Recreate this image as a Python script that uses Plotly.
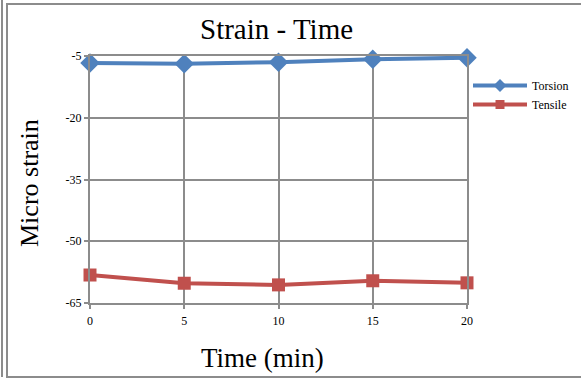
import plotly.graph_objects as go

time_min = [0, 5, 10, 15, 20]
torsion = [-6.7, -6.9, -6.5, -5.8, -5.4]
tensile = [-58.2, -60.2, -60.6, -59.6, -60.1]
y_ticks = [-5, -20, -35, -50, -65]
y_tick_text = ["-5", "-20", "-35", "-50", "-65"]
x_ticks = [0, 5, 10, 15, 20]

W, H = 581, 380
BLUE = "#4F81BD"
RED = "#C0504D"
GRID = "#8C8C8C"
FONT = "Liberation Serif"

def px(x):
    return x / W

def py(y):
    return 1 - y / H

fig = go.Figure()
fig.add_trace(go.Scatter(x=time_min, y=torsion, name="Torsion", mode="lines+markers",
                         line=dict(color=BLUE, width=4),
                         marker=dict(symbol="diamond", size=15, color=BLUE),
                         cliponaxis=False, showlegend=False))
fig.add_trace(go.Scatter(x=time_min, y=tensile, name="Tensile", mode="lines+markers",
                         line=dict(color=RED, width=4),
                         marker=dict(symbol="square", size=13, color=RED),
                         cliponaxis=False, showlegend=False))
# legend entries (smaller symbols, as in the reference legend)
fig.add_trace(go.Scatter(x=[None], y=[None], name="Torsion", mode="lines+markers",
                         line=dict(color=BLUE, width=4),
                         marker=dict(symbol="diamond", size=10, color=BLUE)))
fig.add_trace(go.Scatter(x=[None], y=[None], name="Tensile", mode="lines+markers",
                         line=dict(color=RED, width=4),
                         marker=dict(symbol="square", size=9, color=RED)))

axis_common = dict(showgrid=True, gridcolor=GRID, gridwidth=2,
                   showline=True, linecolor=GRID, linewidth=2, mirror=True,
                   ticks="outside", ticklen=4, tickcolor=GRID, tickwidth=2,
                   zeroline=False, automargin=False,
                   tickfont=dict(family=FONT, size=12, color="black"))

fig.update_layout(
    width=W, height=H,
    margin=dict(l=0, r=0, t=0, b=0),
    paper_bgcolor="white", plot_bgcolor="white",
    font=dict(family=FONT, color="black", size=12),
    showlegend=True,
    legend=dict(x=px(468), y=py(71), xanchor="left", yanchor="top",
                font=dict(family=FONT, size=12, color="black"), bgcolor="rgba(0,0,0,0)",
                tracegroupgap=0, itemwidth=54),
    xaxis=dict(domain=[px(90), px(467)], range=[0, 20], tickvals=x_ticks,
               ticklabelstandoff=2, **axis_common),
    yaxis=dict(domain=[py(303), py(56)], range=[-65, -5], tickvals=y_ticks,
               ticktext=y_tick_text, **axis_common),
    annotations=[
        dict(text="Strain - Time", x=px(276), y=py(29), xref="paper", yref="paper",
             showarrow=False, font=dict(family=FONT, size=29), xanchor="center", yanchor="middle"),
        dict(text="Time (min)", x=px(262), y=py(358), xref="paper", yref="paper",
             showarrow=False, font=dict(family=FONT, size=27), xanchor="center", yanchor="middle"),
        dict(text="Micro strain", x=px(29), y=py(183), xref="paper", yref="paper",
             showarrow=False, font=dict(family=FONT, size=26), textangle=-90,
             xanchor="center", yanchor="middle"),
    ],
    shapes=[
        dict(type="line", xref="paper", yref="paper", x0=px(2), x1=px(2), y0=py(0), y1=py(377),
             line=dict(color=GRID, width=2)),
        dict(type="line", xref="paper", yref="paper", x0=px(7), x1=px(7), y0=py(4), y1=py(378),
             line=dict(color=GRID, width=2)),
        dict(type="line", xref="paper", yref="paper", x0=px(6), x1=px(581), y0=py(4), y1=py(4),
             line=dict(color=GRID, width=2)),
        dict(type="line", xref="paper", yref="paper", x0=px(6), x1=px(581), y0=py(377), y1=py(377),
             line=dict(color=GRID, width=2)),
    ],
)

fig.write_html("out.html")
